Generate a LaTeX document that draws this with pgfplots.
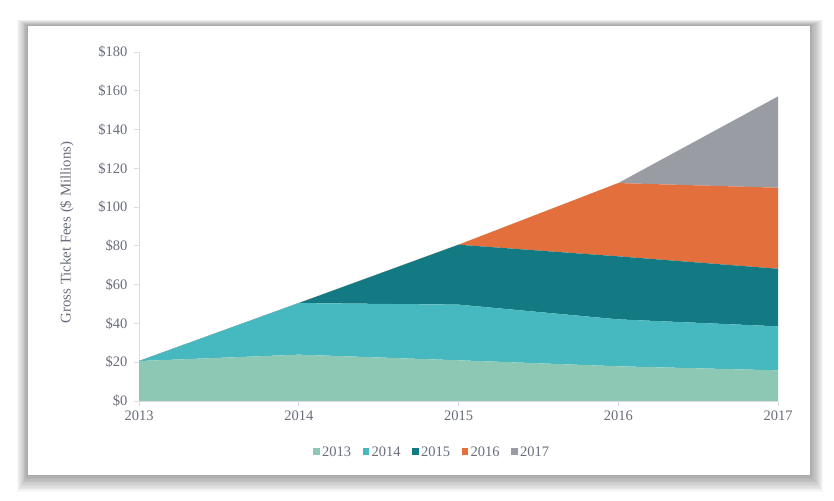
\documentclass[border=0pt]{standalone}
\usepackage{fontspec}
\setmainfont{Liberation Serif}
\usepackage{pgfplots}
\pgfplotsset{compat=1.18}
\definecolor{c13}{HTML}{8CC8B4}
\definecolor{c14}{HTML}{46B9C0}
\definecolor{c15}{HTML}{137A83}
\definecolor{c16}{HTML}{E3703C}
\definecolor{c17}{HTML}{9A9CA4}
\definecolor{txt}{HTML}{6A6D7C}
\definecolor{axl}{HTML}{DADCE2}
\begin{document}
\begin{tikzpicture}
\fill[white] (0pt,0pt) rectangle (834pt,500pt);
\foreach \i in {1,...,12} {
  \fill[black,opacity=0.03] ({(28-\i*0.9)*1pt},{(25-\i*1.4)*1pt}) rectangle ({(810+\i*1.1)*1pt},{(474+\i*0.5)*1pt});
}
\fill[white] (28pt,25pt) rectangle (810pt,474pt);
\begin{axis}[
  at={(139pt,99pt)}, anchor=south west,
  scale only axis, width=639pt, height=349pt,
  xmin=2013, xmax=2017, ymin=0, ymax=180,
  stack plots=y,
  axis x line*=bottom, axis y line*=left,
  axis line style={axl, line width=0.8pt},
  xtick={2013,2014,2015,2016,2017},
  xticklabels={2013,2014,2015,2016,2017},
  ytick={0,20,...,180},
  yticklabels={\$0,\$20,\$40,\$60,\$80,\$100,\$120,\$140,\$160,\$180},
  tick style={axl, line width=0.8pt},
  tick align=outside, major tick length=5pt,
  ticklabel style={font=\fontsize{14.5}{16}\selectfont, text=txt},
  yticklabel style={xshift=-3pt},
  xticklabel style={yshift=-1pt},
  ylabel={Gross Ticket Fees (\$ Millions)},
  ylabel style={at={(axis description cs:-0.113,0.483)}, anchor=center, font=\fontsize{14.8}{17}\selectfont, text=txt},
  legend columns=5,
  legend style={at={(axis description cs:0.459,-0.146)}, anchor=center, draw=none, fill=none,
    font=\fontsize{14.5}{16}\selectfont, text=txt,
    /tikz/every even column/.append style={column sep=9pt},
    nodes={inner xsep=2.5pt}},
  legend image code/.code={\fill[#1] (0pt,-3pt) rectangle (6.5pt,3.5pt);},
  clip=false,
]
\addplot[fill=c13, draw=none] coordinates {(2013,20.6) (2014,23.9) (2015,21.0) (2016,17.9) (2017,15.8)} \closedcycle;
\addplot[fill=c14, draw=none] coordinates {(2013,0) (2014,26.6) (2015,28.7) (2016,24.2) (2017,22.7)} \closedcycle;
\addplot[fill=c15, draw=none] coordinates {(2013,0) (2014,0) (2015,30.9) (2016,32.5) (2017,29.7)} \closedcycle;
\addplot[fill=c16, draw=none] coordinates {(2013,0) (2014,0) (2015,0) (2016,37.8) (2017,41.8)} \closedcycle;
\addplot[fill=c17, draw=none] coordinates {(2013,0) (2014,0) (2015,0) (2016,0) (2017,47.1)} \closedcycle;
\legend{2013,2014,2015,2016,2017}
\end{axis}
\end{tikzpicture}
\end{document}
